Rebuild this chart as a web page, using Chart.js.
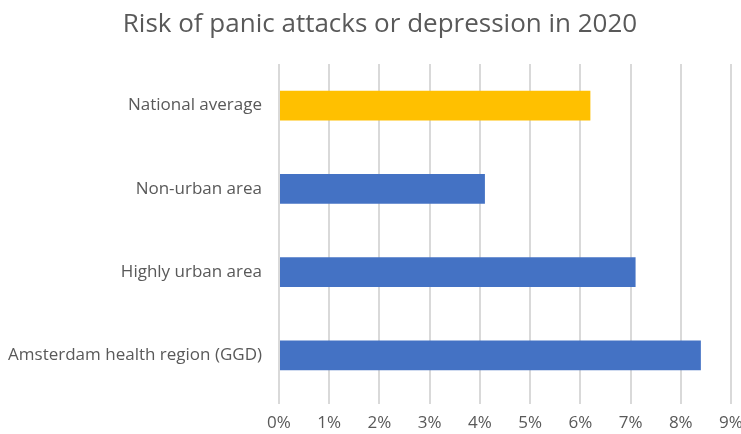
<!DOCTYPE html>
<html>
<head>
<meta charset="utf-8">
<script src="https://cdn.jsdelivr.net/npm/chart.js@4"></script>
<style>
  html, body { margin: 0; padding: 0; background: #fff; }
  #wrap { width: 741px; height: 434px; }
</style>
</head>
<body>
<div id="wrap"><canvas id="myChart" width="741" height="434"></canvas></div>
<script>
  const categories = ["National average", "Non-urban area", "Highly urban area", "Amsterdam health region (GGD)"];
  const risk_values = [6.2, 4.1, 7.1, 8.4];
  const bar_colors = ["#ffc000", "#4472c4", "#4472c4", "#4472c4"];
  const x_ticks = [0, 1, 2, 3, 4, 5, 6, 7, 8, 9];
  const chart_title = "Risk of panic attacks or depression in 2020";

  const textGray = "#595959";
  const gridGray = "#d9d9d9";
  const fontFamily = "'Open Sans', 'Liberation Sans', sans-serif";

  // title is drawn by hand so it can sit a little right of the canvas centre, like the original
  const titlePlugin = {
    id: "offsetTitle",
    afterDraw(c) {
      const g = c.ctx;
      g.save();
      g.fillStyle = textGray;
      g.font = "26px " + fontFamily;
      g.textAlign = "center";
      g.textBaseline = "alphabetic";
      g.fillText(chart_title, 380, 32);
      g.restore();
    }
  };

  const ctx = document.getElementById("myChart").getContext("2d");
  const chart = new Chart(ctx, {
    type: "bar",
    data: {
      labels: categories,
      datasets: [{
        data: risk_values,
        backgroundColor: bar_colors,
        borderWidth: 0,
        categoryPercentage: 1,
        barPercentage: 0.36
      }]
    },
    options: {
      indexAxis: "y",
      responsive: false,
      animation: false,
      layout: { padding: { left: 0, right: 0, top: 64, bottom: 0 } },
      plugins: {
        legend: { display: false },
        tooltip: { enabled: false },
        title: { display: false }
      },
      scales: {
        x: {
          min: 0,
          max: 9,
          afterBuildTicks: function (scale) {
            scale.ticks = x_ticks.map(v => ({ value: v }));
          },
          afterFit: function (scale) {
            scale.height = 37;
            scale.paddingRight = 10;
          },
          ticks: {
            color: textGray,
            font: { family: fontFamily, size: 17 },
            padding: 9,
            callback: v => v + "%"
          },
          grid: { color: gridGray, lineWidth: 2, tickLength: 7 },
          border: { display: false }
        },
        y: {
          afterFit: function (scale) { scale.width = 279; },
          ticks: {
            color: textGray,
            font: { family: fontFamily, size: 17 },
            padding: 9
          },
          grid: { display: false },
          border: { display: false }
        }
      }
    },
    plugins: [titlePlugin]
  });
</script>
</body>
</html>
